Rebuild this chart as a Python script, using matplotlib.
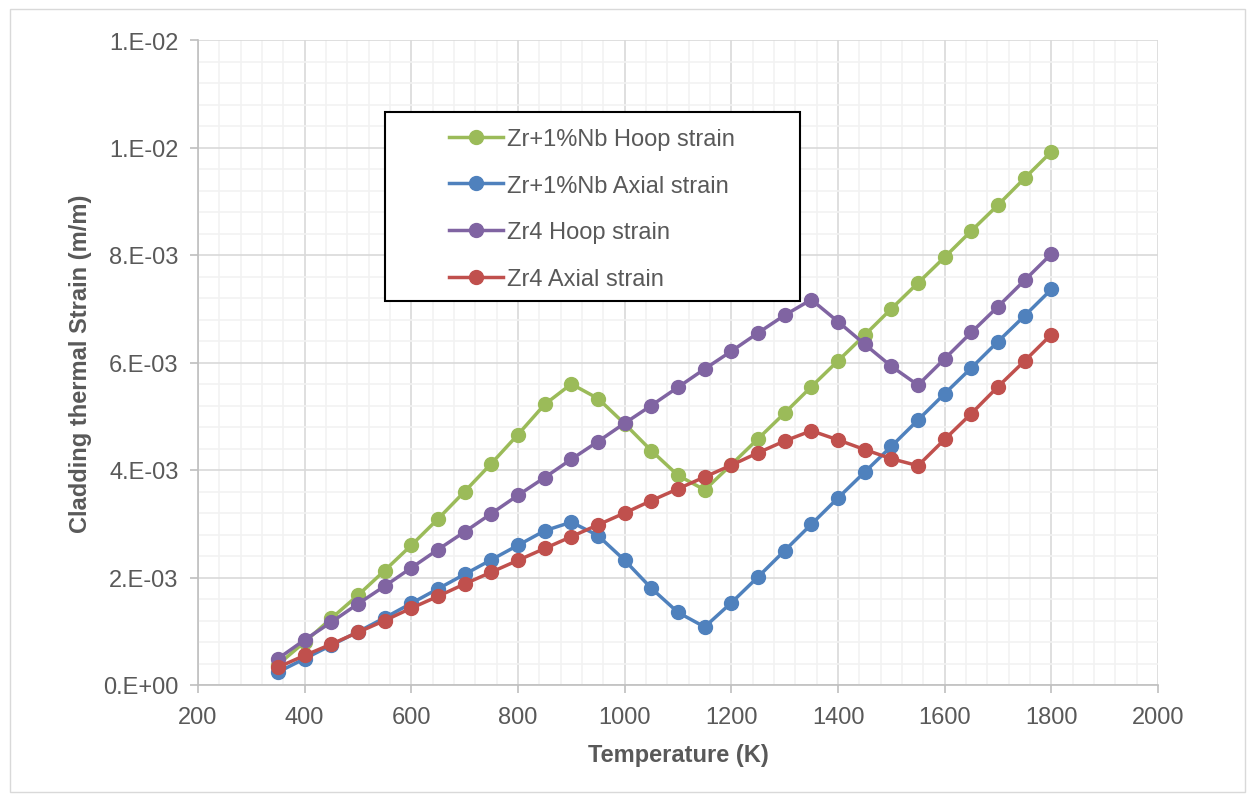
import matplotlib
matplotlib.use('Agg')
import matplotlib.pyplot as plt
import numpy as np
from matplotlib.ticker import MultipleLocator, FuncFormatter
from matplotlib.patches import Rectangle

plt.rcParams['font.family'] = ['Liberation Sans', 'DejaVu Sans']

# Datos
temperatura = list(range(350, 1801, 50))

zrnb_hoop = [0.38e-3, 0.80e-3, 1.24e-3, 1.67e-3, 2.13e-3, 2.60e-3, 3.09e-3, 3.60e-3,
             4.12e-3, 4.66e-3, 5.22e-3, 5.60e-3, 5.33e-3, 4.86e-3, 4.36e-3, 3.90e-3,
             3.63e-3, 4.10e-3, 4.58e-3, 5.06e-3, 5.55e-3, 6.03e-3, 6.51e-3, 7.00e-3,
             7.48e-3, 7.96e-3, 8.45e-3, 8.93e-3, 9.43e-3, 9.92e-3]
zrnb_axial = [0.24e-3, 0.49e-3, 0.74e-3, 0.99e-3, 1.25e-3, 1.52e-3, 1.79e-3, 2.06e-3,
              2.33e-3, 2.60e-3, 2.87e-3, 3.03e-3, 2.78e-3, 2.32e-3, 1.80e-3, 1.35e-3,
              1.08e-3, 1.53e-3, 2.01e-3, 2.50e-3, 2.99e-3, 3.48e-3, 3.96e-3, 4.44e-3,
              4.93e-3, 5.42e-3, 5.90e-3, 6.39e-3, 6.87e-3, 7.36e-3]
zr4_hoop = [0.49e-3, 0.84e-3, 1.17e-3, 1.51e-3, 1.84e-3, 2.18e-3, 2.52e-3, 2.85e-3,
            3.19e-3, 3.53e-3, 3.86e-3, 4.20e-3, 4.53e-3, 4.87e-3, 5.20e-3, 5.54e-3,
            5.88e-3, 6.21e-3, 6.55e-3, 6.88e-3, 7.17e-3, 6.76e-3, 6.34e-3, 5.93e-3,
            5.58e-3, 6.07e-3, 6.56e-3, 7.04e-3, 7.53e-3, 8.02e-3]
zr4_axial = [0.33e-3, 0.55e-3, 0.76e-3, 0.98e-3, 1.20e-3, 1.43e-3, 1.65e-3, 1.88e-3,
             2.10e-3, 2.32e-3, 2.54e-3, 2.76e-3, 2.98e-3, 3.20e-3, 3.43e-3, 3.65e-3,
             3.87e-3, 4.09e-3, 4.32e-3, 4.54e-3, 4.73e-3, 4.56e-3, 4.38e-3, 4.21e-3,
             4.08e-3, 4.57e-3, 5.05e-3, 5.55e-3, 6.03e-3, 6.52e-3]

series = [('Zr+1%Nb Hoop strain', zrnb_hoop, '#9BBB59'),
          ('Zr+1%Nb Axial strain', zrnb_axial, '#4F81BD'),
          ('Zr4 Hoop strain', zr4_hoop, '#8064A2'),
          ('Zr4 Axial strain', zr4_axial, '#C0504D')]

gris = '#595959'

fig = plt.figure(figsize=(12.55, 8.03), dpi=100)
ax = fig.add_axes([198 / 1255, 1 - 686 / 803, 960 / 1255, 645 / 803])

# Orden de dibujo: el verde queda debajo
zs = {0: 2, 1: 4, 2: 3, 3: 5}
handles = []
for i, (nombre, valores, color) in enumerate(series):
    h, = ax.plot(temperatura, valores, color=color, lw=2.5, marker='o', ms=10,
                 label=nombre, zorder=zs[i])
    handles.append(h)

ax.set_xlim(200, 2000)
ax.set_ylim(0, 0.012)
ax.xaxis.set_major_locator(MultipleLocator(200))
ax.xaxis.set_minor_locator(MultipleLocator(40))
ax.yaxis.set_major_locator(MultipleLocator(0.002))
ax.yaxis.set_minor_locator(MultipleLocator(0.0004))
ax.yaxis.set_major_formatter(FuncFormatter(lambda v, p: ('%.0E' % v).replace('E', '.E')))

ax.grid(True, which='major', color='#D9D9D9', lw=1.2, zorder=0)
ax.grid(True, which='minor', color='#F2F2F2', lw=1.2, zorder=0)
ax.set_axisbelow(True)
for s in ['top', 'right']:
    ax.spines[s].set_visible(False)
for s in ['left', 'bottom']:
    ax.spines[s].set_color('#BFBFBF')
    ax.spines[s].set_linewidth(1.2)
ax.tick_params(which='major', colors='#BFBFBF', labelcolor=gris, labelsize=17, length=6, width=1.2)
ax.tick_params(axis='y', pad=8)
ax.tick_params(axis='x', pad=9)
ax.tick_params(which='minor', length=0)

ax.set_xlabel('Temperature (K)', fontsize=17, fontweight='bold', color=gris, labelpad=11)
ax.set_ylabel('Cladding thermal Strain (m/m)', fontsize=17, fontweight='bold', color=gris, labelpad=8)

# Leyenda con marco negro
fig.patches.append(Rectangle((385 / 1255, 1 - 302 / 803), 415 / 1255, 189 / 803,
                             transform=fig.transFigure, fill=True, facecolor='white',
                             edgecolor='black', lw=1.5, zorder=10))
leg = fig.legend(handles, [s[0] for s in series],
                 loc='upper left', bbox_to_anchor=(437 / 1255, 1 - 117 / 803),
                 frameon=False, fontsize=17, labelspacing=1.05, handlelength=2.3,
                 handletextpad=0.15, labelcolor=gris, borderpad=0, markerscale=1.0)
leg.set_zorder(11)

# Borde exterior gris claro
fig.patches.append(Rectangle((10 / 1255, 10 / 803), 1235 / 1255, 783 / 803,
                             transform=fig.transFigure, fill=False,
                             edgecolor='#D9D9D9', lw=1))

fig.savefig('out.png', dpi=100)
